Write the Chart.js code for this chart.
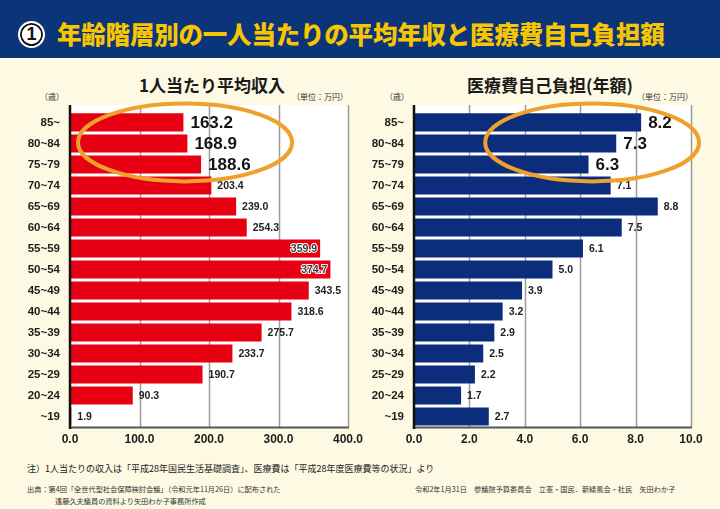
<!DOCTYPE html>
<html lang="ja">
<head>
<meta charset="utf-8">
<script src="https://cdn.jsdelivr.net/npm/chart.js@4.4.1/dist/chart.umd.min.js"></script>
<style>
  html, body { margin: 0; padding: 0; }
  body { width: 720px; height: 509px; background: #fdf9e2; position: relative; overflow: hidden;
         font-family: "Noto Sans CJK JP", "Noto Sans", sans-serif; color: #222; }
  .band { position: absolute; left: 0; top: 0; width: 720px; height: 58px; background: #0b3479; }
  .num { position: absolute; left: 18px; top: 21px; width: 23px; height: 23px; border-radius: 50%;
         background: #fff; border: 2px solid #fff; box-shadow: inset 0 0 0 1.8px #111;
         color: #111; font: bold 18px "Liberation Sans", sans-serif; text-align: center; line-height: 23px; }
  .title { position: absolute; left: 57px; top: 16px; color: #f7c600; font-weight: 900; font-size: 24.5px;
           letter-spacing: -0.2px; white-space: nowrap; line-height: 36px; }
  .sub { position: absolute; top: 73px; font-weight: bold; font-size: 17px; white-space: nowrap; line-height: 24px; color: #1a1a1a; }
  .small { position: absolute; top: 91px; font-size: 8px; white-space: nowrap; line-height: 12px; color: #333; }
  canvas { position: absolute; }
  .note { position: absolute; left: 27px; top: 462px; font-size: 9px; white-space: nowrap; color: #222; }
  .src { position: absolute; font-size: 7.2px; white-space: nowrap; color: #333; line-height: 11px; }
</style>
</head>
<body>
<div class="band"></div>
<div class="num">1</div>
<div class="title">年齢階層別の一人当たりの平均年収と医療費自己負担額</div>

<div class="sub" style="left:139px">1人当たり平均収入</div>
<div class="sub" style="left:467px">医療費自己負担(年額)</div>
<div class="small" style="left:40px">（歳）</div>
<div class="small" style="left:292px">（単位：万円）</div>
<div class="small" style="left:385px">（歳）</div>
<div class="small" style="left:637px">（単位：万円）</div>

<canvas id="incomeChart"></canvas>
<canvas id="medicalChart"></canvas>

<div class="note">注）1人当たりの収入は「平成28年国民生活基礎調査」、医療費は「平成28年度医療費等の状況」より</div>
<div class="src" style="left:27px;top:484px">出典：第4回「全世代型社会保障検討会議」（令和元年11月26日）に配布された</div>
<div class="src" style="left:55px;top:496px">遠藤久夫議員の資料より矢田わか子事務所作成</div>
<div class="src" style="left:415px;top:484px">令和2年1月31日　参議院予算委員会　立憲・国民．新緑風会・社民　矢田わか子</div>

<script>
// 年齢階層（上から順）
const ages = ['85~', '80~84', '75~79', '70~74', '65~69', '60~64', '55~59', '50~54',
              '45~49', '40~44', '35~39', '30~34', '25~29', '20~24', '~19'];

// 1人当たり平均収入（万円）
const income = [163.2, 168.9, 188.6, 203.4, 239.0, 254.3, 359.9, 374.7,
                343.5, 318.6, 275.7, 233.7, 190.7, 90.3, 1.9];

// 医療費自己負担（年額・万円）
const medical = [8.2, 7.3, 6.3, 7.1, 8.8, 7.5, 6.1, 5.0,
                 3.9, 3.2, 2.9, 2.5, 2.2, 1.7, 2.7];

// 目盛り
const incomeTicks = [0, 100, 200, 300, 400];
const medicalTicks = [0, 2, 4, 6, 8, 10];

// 強調する上位3階層
const bigLabels = [0, 1, 2];

const numFont = '"Liberation Sans", Arial, sans-serif';

// 白い背景・グリッド・軸線
const frame = {
    id: 'frame',
    beforeDatasetsDraw(chart) {
        const { ctx, chartArea: a, scales: { x } } = chart;
        const top = a.top - 7;
        ctx.save();
        ctx.fillStyle = '#ffffff';
        ctx.fillRect(a.left, top, a.right - a.left, a.bottom - top);
        ctx.strokeStyle = '#9c9c9c';
        ctx.lineWidth = 1.5;
        x.ticks.forEach(t => {
            if (t.value === 0) return;
            const px = Math.round(x.getPixelForValue(t.value)) + 0.5;
            ctx.beginPath();
            ctx.moveTo(px, top);
            ctx.lineTo(px, a.bottom);
            ctx.stroke();
        });
        ctx.restore();
    },
    afterDatasetsDraw(chart) {
        const { ctx, chartArea: a } = chart;
        const top = a.top - 7;
        ctx.save();
        ctx.strokeStyle = '#555';
        ctx.lineWidth = 2;
        ctx.beginPath();
        ctx.moveTo(a.left, a.bottom + 0.5);
        ctx.lineTo(a.right + 1, a.bottom + 0.5);
        ctx.stroke();
        ctx.strokeStyle = '#111';
        ctx.lineWidth = 2.5;
        ctx.beginPath();
        ctx.moveTo(a.left, top);
        ctx.lineTo(a.left, a.bottom + 2);
        ctx.stroke();
        ctx.restore();
    }
};

// 棒の数値ラベル
const valueLabels = {
    id: 'valueLabels',
    afterDatasetsDraw(chart, args, opts) {
        const { ctx } = chart;
        const meta = chart.getDatasetMeta(0);
        const data = chart.data.datasets[0].data;
        ctx.save();
        ctx.textBaseline = 'middle';
        meta.data.forEach((bar, i) => {
            const txt = data[i].toFixed(1);
            if (bigLabels.includes(i)) {
                ctx.font = 'bold 17px ' + numFont;
                ctx.fillStyle = '#141414';
                ctx.textAlign = 'left';
                ctx.fillText(txt, bar.x + 7, bar.y + 1);
            } else if ((opts.inside || []).includes(i)) {
                ctx.font = 'bold 10.5px ' + numFont;
                ctx.textAlign = 'right';
                ctx.lineJoin = 'round';
                ctx.strokeStyle = '#ffffff';
                ctx.lineWidth = 2;
                ctx.strokeText(txt, bar.x - 3, bar.y + 1);
                ctx.fillStyle = '#3a3a3a';
                ctx.fillText(txt, bar.x - 3, bar.y + 1);
            } else {
                ctx.font = 'bold 10.5px ' + numFont;
                ctx.fillStyle = '#222';
                ctx.textAlign = 'left';
                ctx.fillText(txt, bar.x + 6, bar.y + 1);
            }
        });
        ctx.restore();
    }
};

// 高齢層を囲むオレンジの楕円
const ring = {
    id: 'ring',
    afterDraw(chart, args, opts) {
        const { ctx, scales: { x, y } } = chart;
        const cx = x.getPixelForValue(opts.center);
        const rx = x.getPixelForValue(opts.center + opts.radius) - cx;
        const cy = y.getPixelForValue(1) - 1;
        ctx.save();
        ctx.strokeStyle = '#f0a02c';
        ctx.lineWidth = 4;
        ctx.beginPath();
        ctx.ellipse(cx, cy, rx, 39, 0, 0, Math.PI * 2);
        ctx.stroke();
        ctx.restore();
    }
};

function makeChart(id, pos, values, color, ticks, yWidth, padRight, extra) {
    const canvas = document.getElementById(id);
    canvas.style.left = pos.left + 'px';
    canvas.style.top = pos.top + 'px';
    canvas.width = pos.width;
    canvas.height = pos.height;
    return new Chart(canvas.getContext('2d'), {
        type: 'bar',
        data: {
            labels: ages,
            datasets: [{
                data: values,
                backgroundColor: color,
                borderWidth: 0,
                barPercentage: 0.86,
                categoryPercentage: 1
            }]
        },
        options: {
            indexAxis: 'y',
            responsive: false,
            animation: false,
            layout: { padding: { top: 15, right: padRight, left: 0, bottom: 0 } },
            plugins: {
                legend: { display: false },
                tooltip: { enabled: false },
                valueLabels: { inside: extra.inside },
                ring: extra.ring
            },
            scales: {
                x: {
                    min: ticks[0],
                    max: ticks[ticks.length - 1],
                    afterBuildTicks: s => { s.ticks = ticks.map(v => ({ value: v })); },
                    afterFit: s => { s.height = 28; },
                    grid: { display: false, drawTicks: false },
                    border: { display: false },
                    ticks: {
                        padding: 5,
                        color: '#1e1e1e',
                        font: { family: numFont, weight: 'bold', size: 12 },
                        callback: v => Number(v).toFixed(1)
                    }
                },
                y: {
                    afterFit: s => { s.width = yWidth; },
                    grid: { display: false, drawTicks: false },
                    border: { display: false },
                    ticks: {
                        padding: 10,
                        color: '#1e1e1e',
                        font: { family: numFont, weight: 'bold', size: 11.5 }
                    }
                }
            }
        },
        plugins: [frame, valueLabels, ring]
    });
}

makeChart('incomeChart', { left: 0, top: 95, width: 375, height: 360 }, income, '#e60012',
          incomeTicks, 70, 27, { inside: [6, 7], ring: { center: 165.5, radius: 154 } });

makeChart('medicalChart', { left: 360, top: 95, width: 360, height: 360 }, medical, '#0c2d7c',
          medicalTicks, 54, 29, { inside: [], ring: { center: 6.43, radius: 3.86 } });
</script>
</body>
</html>
